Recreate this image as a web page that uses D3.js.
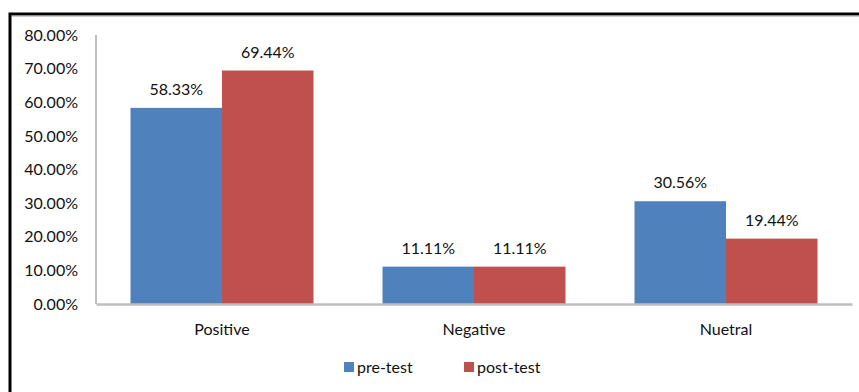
<!DOCTYPE html>
<html><head><meta charset="utf-8">
<script src="https://cdn.jsdelivr.net/npm/d3@7"></script>
<style>body{margin:0;background:#fff}svg{display:block}</style>
</head><body>
<svg id="c" width="859" height="392"></svg>
<script>
const categories = ["Positive", "Negative", "Nuetral"];
const seriesNames = ["pre-test", "post-test"];
const preTest = [58.33, 11.11, 30.56];
const postTest = [69.44, 11.11, 19.44];
const yTicks = [0, 10, 20, 30, 40, 50, 60, 70, 80];
const colors = ["#4f81bd", "#c0504d"];

const svg = d3.select("#c");
const font = "Lato, 'Open Sans', sans-serif";
const fs = 16;

// outer frame
svg.append("rect").attr("x", 10).attr("y", 14).attr("width", 900).attr("height", 450)
  .attr("fill", "none").attr("stroke", "#000").attr("stroke-width", 3);
svg.append("line").attr("x1", 11.5).attr("x2", 900).attr("y1", 16).attr("y2", 16)
  .attr("stroke", "#999").attr("stroke-width", 1);

const y = d3.scaleLinear().domain([0, 80]).range([304, 35]);
const x = d3.scaleBand().domain(categories).range([96, 852]).paddingInner(0).paddingOuter(0);
const barW = 91.5;
const xs = d3.scaleBand().domain(seriesNames).range([-barW, barW]);

// y axis labels
const yAxis = d3.axisLeft(y).tickValues(yTicks).tickSize(0).tickPadding(18)
  .tickFormat(d => d.toFixed(2) + "%");
const gy = svg.append("g").attr("transform", "translate(96,0)").call(yAxis);
gy.select(".domain").remove();
gy.selectAll("text").attr("font-family", font).attr("font-size", fs).attr("fill", "#111");

// bars
const data = [preTest, postTest];
seriesNames.forEach((s, si) => {
  const g = svg.append("g");
  g.selectAll("rect").data(categories).join("rect")
    .attr("x", c => x(c) + x.bandwidth() / 2 + xs(s))
    .attr("y", (c, i) => y(data[si][i]))
    .attr("width", xs.bandwidth())
    .attr("height", (c, i) => y(0) - y(data[si][i]))
    .attr("fill", colors[si]);
  g.selectAll("text").data(categories).join("text")
    .attr("x", c => x(c) + x.bandwidth() / 2 + xs(s) + xs.bandwidth() / 2)
    .attr("y", (c, i) => y(data[si][i]) - 13)
    .attr("text-anchor", "middle")
    .attr("font-family", font).attr("font-size", fs).attr("fill", "#111")
    .text((c, i) => data[si][i].toFixed(2) + "%");
});

// axes lines
svg.append("line").attr("x1", 96).attr("x2", 96).attr("y1", y(80)).attr("y2", y(0))
  .attr("stroke", "#bfbfbf").attr("stroke-width", 2);
const xAxis = d3.axisBottom(x).tickSize(0).tickPadding(20);
const gx = svg.append("g").attr("transform", "translate(0," + y(0) + ")").call(xAxis);
gx.select(".domain").attr("stroke", "#bfbfbf").attr("stroke-width", 2.5);
gx.selectAll("text").attr("font-family", font).attr("font-size", fs).attr("fill", "#111");

// legend
const legend = [{x: 344, name: seriesNames[0], c: colors[0]}, {x: 464, name: seriesNames[1], c: colors[1]}];
legend.forEach(l => {
  svg.append("rect").attr("x", l.x).attr("y", 362).attr("width", 10).attr("height", 10).attr("fill", l.c);
  svg.append("text").attr("x", l.x + 13).attr("y", 372.5).attr("font-family", font)
    .attr("font-size", fs).attr("fill", "#111").text(l.name);
});
</script>
</body></html>
